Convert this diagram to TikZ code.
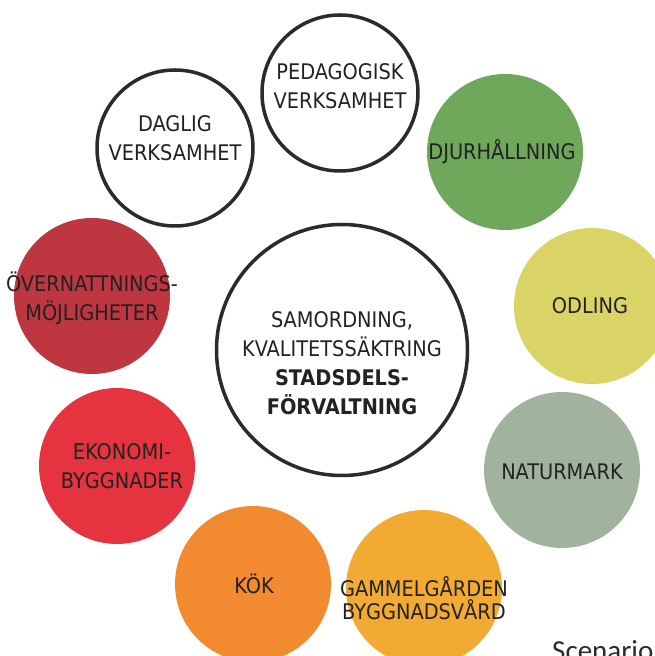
\documentclass[tikz,border=0pt]{standalone}
\usepackage{fontspec}
\setmainfont{DejaVu Sans Condensed}
\newfontfamily\scenfont{Carlito}
\usetikzlibrary{positioning}
\definecolor{ringgray}{HTML}{2B2B2B}
\definecolor{txtgray}{HTML}{222222}
\definecolor{djurgreen}{HTML}{6FA75B}
\definecolor{odlyellow}{HTML}{DAD366}
\definecolor{overred}{HTML}{BD3640}
\definecolor{ekored}{HTML}{E5343F}
\definecolor{natgray}{HTML}{A1B39C}
\definecolor{kokorange}{HTML}{F28A30}
\definecolor{gamamber}{HTML}{F2AA33}

\begin{document}
\begin{tikzpicture}[x=1pt, y=1pt,
	bubble/.style={circle, minimum size=156pt, inner sep=0pt},
	ring/.style={bubble, draw=ringgray, line width=3.5pt, fill=white},
	lbl/.style={text=txtgray, font=\fontsize{21.5}{29}\selectfont, align=center, inner sep=0pt}]
	\useasboundingbox (0,0) rectangle (655,656);
	
	\node[ring, minimum size=251pt] (c) at (342,306) {};
	\node[ring] (a1) at (340,563) {};
	\node[ring] (a2) at (175,508) {};
	\node[bubble, fill=djurgreen] (a3) at (505,504) {};
	\node[bubble, fill=overred] (a4) at (92,360) {};
	\node[bubble, fill=odlyellow] (a5) at (592,350) {};
	\node[bubble, fill=ekored] (a6) at (117,190) {};
	\node[bubble, fill=natgray] (a7) at (562,186) {};
	\node[bubble, fill=kokorange] (a8) at (253,72) {};
	\node[bubble, fill=gamamber] (a9) at (424,68) {};
	
	\node[lbl, below=13pt of c.center, anchor=center] (n0) {SAMORDNING,\\KVALITETSSÄKTRING\\\bfseries STADSDELS-\\\bfseries FÖRVALTNING};
	\node[lbl, above=7pt of a1.center, anchor=center] (n1) {PEDAGOGISK\\VERKSAMHET};
	\node[lbl, above=10pt of a2.center, anchor=center] (n2) {DAGLIG\\VERKSAMHET};
	\node[lbl, left=3pt of a3.center, anchor=center] (n3) {DJURHÅLLNING};
	\node[lbl, below=2pt of a4.center, anchor=center] (n4) {ÖVERNATTNINGS-\\MÖJLIGHETER};
	\node[lbl, left=2pt of a5.center, anchor=center] (n5) {ODLING};
	\node[lbl, right=5pt of a6.center, anchor=center] (n6) {EKONOMI-\\BYGGNADER};
	\node[lbl, below=2pt of a7.center, anchor=center] (n7) {NATURMARK};
	\node[lbl, right=1pt of a8.center, anchor=center] (n8) {KÖK};
	\node[lbl, below=10pt of a9.center, anchor=center, font=\fontsize{21.5}{23}\selectfont] (n9) {GAMMELGÅRDEN\\BYGGNADSVÅRD};
	
	\node[anchor=base west, inner sep=0pt, text=ringgray, font=\scenfont\fontsize{29}{34}\selectfont] (s) at (552,-5) {Scenario};
\end{tikzpicture}
\end{document}
